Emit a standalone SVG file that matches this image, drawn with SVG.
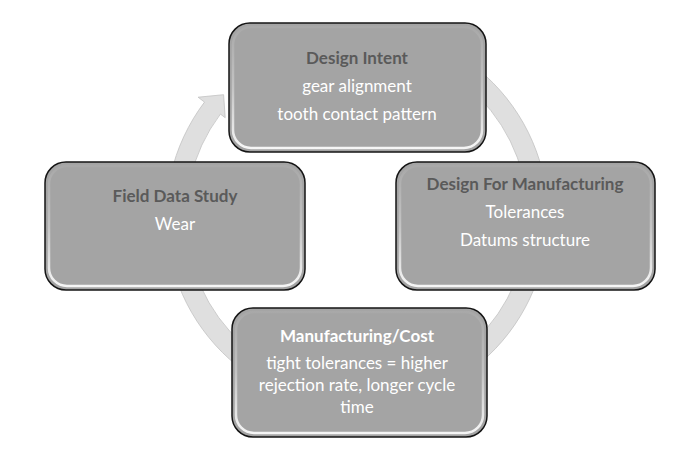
<svg xmlns="http://www.w3.org/2000/svg" width="681" height="456" viewBox="0 0 681 456">
  <defs>
    <linearGradient id="hl" x1="0" y1="0" x2="0" y2="1">
      <stop offset="0" stop-color="#ffffff" stop-opacity="0.05"/>
      <stop offset="0.5" stop-color="#ffffff" stop-opacity="0.35"/>
      <stop offset="1" stop-color="#ffffff" stop-opacity="0.9"/>
    </linearGradient>
  </defs>
  <style>
    .box { fill: #a4a4a4; stroke: #151515; stroke-width: 1.5; }
    .hl { fill: none; stroke: url(#hl); stroke-width: 2.5; }
    .ring { fill: #dfdfdf; stroke: #c2c2c2; stroke-width: 0.8; }
    .title { font-family: Lato, "Open Sans", sans-serif; font-weight: bold; font-size: 17px; fill: #5a5a5a; text-anchor: middle; }
    .title-w { font-family: Lato, "Open Sans", sans-serif; font-weight: bold; font-size: 17px; fill: #ffffff; text-anchor: middle; }
    .body { font-family: Lato, "Open Sans", sans-serif; font-size: 17px; fill: #ffffff; text-anchor: middle; }
  </style>
  <rect width="681" height="456" fill="#ffffff"/>
  <g id="connectors">
    <path class="ring" d="M 406.4 32.5 A 191 191 0 1 1 204.5 102.1 L 198.1 97.2 L 223.6 94.7 L 225.2 117.7 L 220.4 114.1 A 171 171 0 1 0 401.3 51.8 Z"/>
  </g>
  <g id="design-intent">
    <rect class="box" x="229" y="23" width="257" height="129" rx="21"/>
    <rect class="hl" x="233" y="27" width="249" height="121" rx="18"/>
    <text class="title" x="357" y="64">Design Intent</text>
    <text class="body" x="357" y="92">gear alignment</text>
    <text class="body" x="357" y="120">tooth contact pattern</text>
  </g>
  <g id="design-for-manufacturing">
    <rect class="box" x="396" y="162" width="259" height="128" rx="21"/>
    <rect class="hl" x="400" y="166" width="251" height="120" rx="18"/>
    <text class="title" x="525" y="190">Design For Manufacturing</text>
    <text class="body" x="525" y="218">Tolerances</text>
    <text class="body" x="525" y="246">Datums structure</text>
  </g>
  <g id="field-data-study">
    <rect class="box" x="45" y="162" width="260" height="128" rx="21"/>
    <rect class="hl" x="49" y="166" width="252" height="120" rx="18"/>
    <text class="title" x="175" y="202">Field Data Study</text>
    <text class="body" x="175" y="230">Wear</text>
  </g>
  <g id="manufacturing-cost">
    <rect class="box" x="232" y="308" width="255" height="129" rx="21"/>
    <rect class="hl" x="236" y="312" width="247" height="121" rx="18"/>
    <text class="title-w" x="357" y="342">Manufacturing/Cost</text>
    <text class="body" x="357" y="369">tight tolerances = higher</text>
    <text class="body" x="357" y="391">rejection rate, longer cycle</text>
    <text class="body" x="357" y="413">time</text>
  </g>
</svg>
